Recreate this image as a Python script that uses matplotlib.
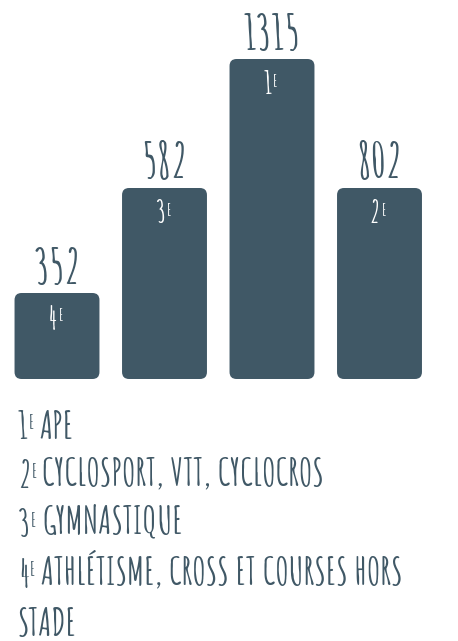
import numpy as np
import matplotlib.pyplot as plt
from matplotlib.patches import FancyBboxPatch
from matplotlib import font_manager

# ── DATA ─────────────────────────────────────────────────────────
values   = [352, 582, 1315, 802]
ranks    = ['4', '3', '1', '2']
podium   = [86, 191, 320, 191]          # drawn heights of the podium steps (not to scale)
legend_nums  = ['1', '2', '3', '4', '']
legend_texts = ['APE',
                'CYCLOSPORT, VTT, CYCLOCROS',
                'GYMNASTIQUE',
                'ATHLÉTISME, CROSS ET COURSES HORS',
                'STADE']

COLOR = '#405866'

# hand-drawn looking condensed font, first one installed wins
names = {f.name for f in font_manager.fontManager.ttflist}
candidates = ['Just Another Hand', 'Amatic SC', 'Gochi Hand', 'Patrick Hand SC',
              'Barlow Condensed', 'DejaVu Sans']
FONT = next(c for c in candidates if c in names)
plt.rcParams['font.family'] = [FONT, 'DejaVu Sans']
plt.rcParams['font.weight'] = 'bold'

W, H = 458, 641
fig = plt.figure(figsize=(W / 100, H / 100), dpi=100)

# bars live in the upper part of the picture, y in pixel-like units
ax = fig.add_axes([0, 1 - 381 / H, 1, 381 / H])
ax.set_xlim(-57 / 107.5, (W - 57) / 107.5)
ax.set_ylim(-2, 379)
ax.axis('off')

x = np.arange(len(values))
bw = 0.79
px_x = 107.5                                  # pixels per x unit
for xi, h, v, r in zip(x, podium, values, ranks):
    patch = FancyBboxPatch((xi - bw / 2, 0), bw, h,
                           boxstyle='round,pad=0,rounding_size=%f' % (7 / px_x),
                           mutation_aspect=px_x,
                           fc=COLOR, ec='none')
    ax.add_patch(patch)
    ax.text(xi, h + 8, str(v), ha='center', va='bottom',
            fontsize=34, color=COLOR)
    t = ax.text(xi - 0.04, h - 12, r, ha='center', va='top',
                fontsize=22, color='white')
    ax.annotate('E', xy=(1, 1), xycoords=t, xytext=(0.5, -2),
                textcoords='offset points', ha='left', va='top',
                fontsize=12, color='white')

# ── legend list ──────────────────────────────────────────────────
lax = fig.add_axes([0, 0, 1, 1], zorder=-1)
lax.set_xlim(0, W)
lax.set_ylim(H, 0)
lax.axis('off')

first_top = 411
step = 49
for i, (n, txt) in enumerate(zip(legend_nums, legend_texts)):
    y = first_top + i * step
    if n:
        t = lax.text(18, y, n, ha='left', va='top', fontsize=27, color=COLOR)
        e = lax.annotate('E', xy=(1, 1), xycoords=t, xytext=(0.5, -2),
                         textcoords='offset points', ha='left', va='top',
                         fontsize=14, color=COLOR)
        lax.annotate(txt, xy=(1, 0), xycoords=(e, t), xytext=(4, 0),
                     textcoords='offset points', ha='left', va='bottom',
                     fontsize=27, color=COLOR)
    else:
        lax.text(18, y, txt, ha='left', va='top', fontsize=27, color=COLOR)

fig.savefig('out.png', dpi=100, facecolor='white')
